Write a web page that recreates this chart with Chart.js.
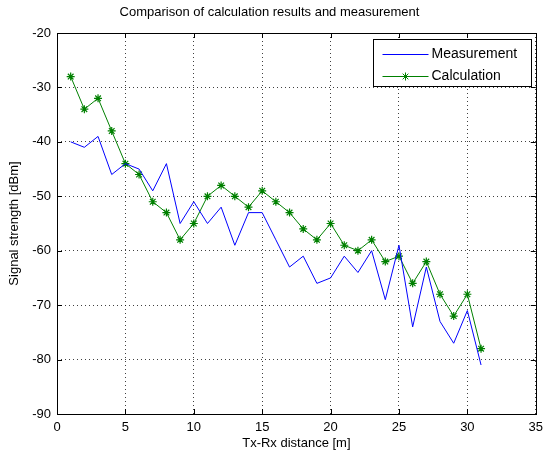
<!DOCTYPE html>
<html>
<head>
<meta charset="utf-8">
<script src="https://cdn.jsdelivr.net/npm/chart.js@4.4.0/dist/chart.umd.min.js"></script>
<style>
  html, body { margin: 0; padding: 0; background: #fff; }
  #wrap { width: 549px; height: 455px; }
</style>
</head>
<body>
<div id="wrap"><canvas id="chart" width="549" height="455"></canvas></div>
<script>
const distance = [1, 2, 3, 4, 5, 6, 7, 8, 9, 10, 11, 12, 13, 14, 15, 16,
                  17, 18, 19, 20, 21, 22, 23, 24, 25, 26, 27, 28, 29, 30, 31];
const measurement = [-40, -41, -39, -46, -44, -45, -49, -44, -55, -51, -55, -52, -59, -53, -53, -58,
                     -63, -61, -66, -65, -61, -64, -60, -69, -59, -74, -63, -73, -77, -71, -81];
const calculation = [-28, -34, -32, -38, -44, -46, -51, -53, -58, -55, -50, -48, -50, -52, -49, -51,
                     -53, -56, -58, -55, -59, -60, -58, -62, -61, -66, -62, -68, -72, -68, -78];
const seriesNames = ['Measurement', 'Calculation'];

const FONT = 'Liberation Sans, Arial, sans-serif';

const toPoints = (ys) => distance.map((d, i) => ({ x: d, y: ys[i] }));

// matlab style box, inward ticks and legend in the top right corner
const matlabFrame = {
    id: 'matlabFrame',
    afterDraw(chart) {
        const { ctx, chartArea: a, scales: { x, y } } = chart;
        ctx.save();
        ctx.strokeStyle = '#000';
        ctx.lineWidth = 1;
        ctx.strokeRect(Math.round(a.left) + 0.5, Math.round(a.top) + 0.5,
            Math.round(a.right - a.left), Math.round(a.bottom - a.top));

        ctx.beginPath();
        x.ticks.forEach(t => {
            const px = Math.round(x.getPixelForValue(t.value)) + 0.5;
            ctx.moveTo(px, a.bottom); ctx.lineTo(px, a.bottom - 5);
            ctx.moveTo(px, a.top); ctx.lineTo(px, a.top + 5);
        });
        y.ticks.forEach(t => {
            const py = Math.round(y.getPixelForValue(t.value)) + 0.5;
            ctx.moveTo(a.left, py); ctx.lineTo(a.left + 5, py);
            ctx.moveTo(a.right, py); ctx.lineTo(a.right - 5, py);
        });
        ctx.stroke();

        // legend
        const w = 158, h = 47;
        const bx = Math.round(a.right - 5 - w) + 0.5, by = Math.round(a.top + 6) + 0.5;
        ctx.fillStyle = '#fff';
        ctx.fillRect(bx, by, w, h);
        ctx.strokeRect(bx, by, w, h);
        ctx.font = '14px ' + FONT;
        ctx.textBaseline = 'middle';
        chart.data.datasets.forEach((ds, i) => {
            const ry = Math.round(by + 14 + i * 22) + 0.5;
            ctx.strokeStyle = ds.borderColor;
            ctx.beginPath();
            ctx.moveTo(bx + 9, ry); ctx.lineTo(bx + 55, ry);
            ctx.stroke();
            if (ds.pointRadius > 0) {
                Chart.helpers.drawPoint(ctx, {
                    pointStyle: ds.pointStyle, radius: ds.pointRadius, rotation: 0,
                    borderWidth: 1
                }, bx + 32, ry);
            }
            ctx.fillStyle = '#000';
            ctx.fillText(ds.label, bx + 58, ry);
        });
        ctx.restore();
    }
};

new Chart(document.getElementById('chart'), {
    type: 'line',
    data: {
        datasets: [{
            label: seriesNames[0],
            data: toPoints(measurement),
            borderColor: '#0000ff',
            borderWidth: 1,
            pointRadius: 0,
            tension: 0
        }, {
            label: seriesNames[1],
            data: toPoints(calculation),
            borderColor: '#008000',
            backgroundColor: '#008000',
            borderWidth: 1,
            pointStyle: 'star',
            pointRadius: 4,
            pointBorderWidth: 1.2,
            pointBorderColor: '#008000',
            tension: 0
        }]
    },
    options: {
        responsive: false,
        animation: false,
        layout: { padding: { left: 0, right: 10, top: 0, bottom: 0 } },
        plugins: {
            legend: { display: false },
            tooltip: { enabled: false },
            title: {
                display: true,
                text: 'Comparison of calculation results and measurement',
                color: '#000',
                font: { family: FONT, size: 13, weight: 'normal' },
                padding: { top: 5, bottom: 12.4 }
            }
        },
        scales: {
            x: {
                type: 'linear',
                min: 0, max: 35,
                ticks: { stepSize: 5, color: '#000', padding: 6, font: { family: FONT, size: 13 } },
                grid: { color: 'rgba(0,0,0,0.75)', drawTicks: false },
                border: { display: false, dash: [1, 3] },
                title: {
                    display: true, text: 'Tx-Rx distance [m]', color: '#000',
                    font: { family: FONT, size: 13 }, padding: { top: 0, bottom: 4 }
                },
                afterFit: s => { s.height = 41; }
            },
            y: {
                min: -90, max: -20,
                ticks: { stepSize: 10, color: '#000', padding: 6, font: { family: FONT, size: 13 } },
                grid: { color: 'rgba(0,0,0,0.75)', drawTicks: false },
                border: { display: false, dash: [1, 3] },
                title: {
                    display: true, text: 'Signal strength [dBm]', color: '#000',
                    font: { family: FONT, size: 13 }, padding: { top: 7, bottom: 0 }
                },
                afterFit: s => { s.width = 57; }
            }
        }
    },
    plugins: [matlabFrame]
});
</script>
</body>
</html>
